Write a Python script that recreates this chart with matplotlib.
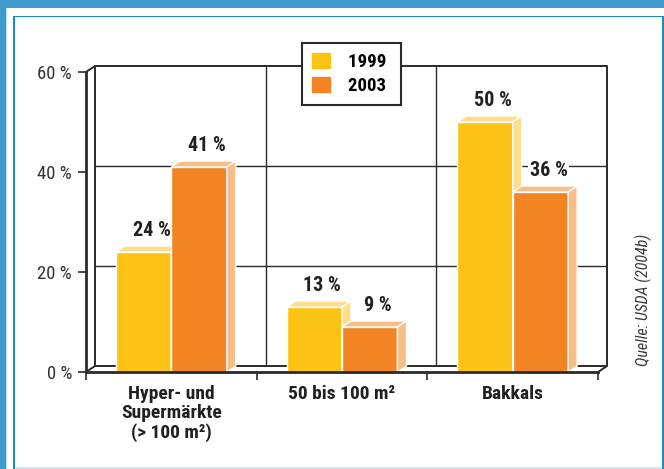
import matplotlib
matplotlib.use('Agg')
import matplotlib.pyplot as plt
from matplotlib.patches import Polygon, Rectangle, Patch

# data
categories = ['Hyper- und\nSupermärkte\n(> 100 m²)', '50 bis 100 m²', 'Bakkals']
years = ['1999', '2003']
share_1999 = [24, 13, 50]
share_2003 = [41, 9, 36]
yticks = [0, 20, 40, 60]
source = 'Quelle: USDA (2004b)'

plt.rcParams['font.family'] = ['Liberation Sans Narrow', 'Roboto Condensed', 'DejaVu Sans']
plt.rcParams['font.stretch'] = 'condensed'

W, H = 664, 469
fig = plt.figure(figsize=(W / 100, H / 100), dpi=100)
ax = fig.add_axes([86 / W, 1 - 372 / H, 512 / W, 300 / H])
ax.patch.set_visible(False)
ax.set_xlim(0, len(categories))
ax.set_ylim(yticks[0], yticks[-1])

# depth of the fake 3d box, in data units (about 9px right, 6px up)
dx = 9 / (512 / 3)
dy = 6 / 5
ink = '#2a2a2a'


# blue page frame
def px_rect(x0, y0, x1, y1, color):
    fig.patches.append(Rectangle((x0 / W, 1 - y1 / H), (x1 - x0) / W, (y1 - y0) / H,
                                 transform=fig.transFigure, color=color, lw=0, zorder=-10))


px_rect(0, 0, W, 8.3, '#3f9bcb')
px_rect(0, 0, 6, H, '#3f9bcb')
px_rect(6, 8.3, 7.4, H, '#bcdcee')
px_rect(13.4, 15.6, 15, H, '#1b8bc6')
px_rect(13.4, 15.6, W, 17, '#1b8bc6')
px_rect(662, 15.6, W, H, '#1b8bc6')
px_rect(15, 467.3, 662, H, '#cfe7f4')

# back wall of the box
line = dict(color=ink, clip_on=False, zorder=1, solid_capstyle='butt')
n = len(categories)
for v in yticks[1:-1]:
    ax.plot([dx, n + dx], [v + dy, v + dy], lw=1.0, **line)
for i in range(1, n):
    ax.plot([i + dx, i + dx], [dy, yticks[-1] + dy], lw=1.0, **line)
ax.plot([dx, dx, n + dx, n + dx, dx], [dy, yticks[-1] + dy, yticks[-1] + dy, dy, dy], lw=1.4, **line)
ax.plot([0, dx], [yticks[-1], yticks[-1] + dy], lw=1.4, **line)
ax.plot([0, dx], [0, dy], lw=1.4, **line)
ax.plot([n, n + dx], [0, dy], lw=1.4, **line)

# bars with top and side faces
bw = 0.325
series = [(share_1999, '#fdc314', '#fedd8c', -bw, 3),
          (share_2003, '#f28423', '#f9bd88', 0.0, 4)]
for vals, front, light, off, z in series:
    for i, v in enumerate(vals):
        x0 = i + 0.5 + off
        ax.bar(x0, v, width=bw, align='edge', color=front, edgecolor='white', lw=1, zorder=z)
        top = [(x0, v), (x0 + dx, v + dy), (x0 + bw + dx, v + dy), (x0 + bw, v)]
        side = [(x0 + bw, 0), (x0 + bw + dx, dy), (x0 + bw + dx, v + dy), (x0 + bw, v)]
        for pts in (top, side):
            ax.add_patch(Polygon(pts, closed=True, fc=light, ec='white', lw=1, zorder=z, clip_on=False))
        ax.text(x0 + bw / 2 + dx * 0.9, v + 3.2, f'{v} %', ha='center', va='baseline',
                fontsize=14.5, fontweight='bold', color='#231f20', zorder=2,
                bbox=dict(fc='white', ec='none', pad=1.5))

# axes
for s in ('top', 'right'):
    ax.spines[s].set_visible(False)
for s in ('left', 'bottom'):
    ax.spines[s].set_linewidth(2)
    ax.spines[s].set_color(ink)
    ax.spines[s].set_zorder(5)

ax.set_yticks(yticks)
ax.set_yticklabels([f'{v} %' for v in yticks])
ax.tick_params(axis='y', direction='out', length=6, width=1.2, pad=4,
               labelsize=13.5, labelcolor='#333333', color=ink)

ax.set_xticks(range(n + 1))
ax.set_xticklabels([])
ax.tick_params(axis='x', which='major', direction='out', length=6, width=1.2, color=ink)
ax.set_xticks([i + 0.5 for i in range(n)], minor=True)
ax.set_xticklabels(categories, minor=True, fontsize=14, fontweight='bold',
                   color='#231f20', linespacing=1.1)
ax.tick_params(axis='x', which='minor', length=0, pad=9)

# legend
handles = [Patch(color=c) for c in ('#fdc314', '#f28423')]
leg = ax.legend(handles, [y + ' ' for y in years], loc='upper center',
                bbox_to_anchor=(0.5185, 1.097), borderaxespad=0, frameon=True, fancybox=False,
                edgecolor=ink, framealpha=1, prop=dict(weight='bold', size=13.5),
                handlelength=0.95, handleheight=0.85, handletextpad=1.0,
                labelspacing=0.3, borderpad=0.55)
leg.get_frame().set_linewidth(1.5)
leg.set_zorder(10)

ax.text(1.088, 0.24, source, transform=ax.transAxes, rotation=90, ha='center', va='center',
        fontsize=11.5, style='italic', color='#3a3a3a')

fig.savefig('out.png', dpi=100)
